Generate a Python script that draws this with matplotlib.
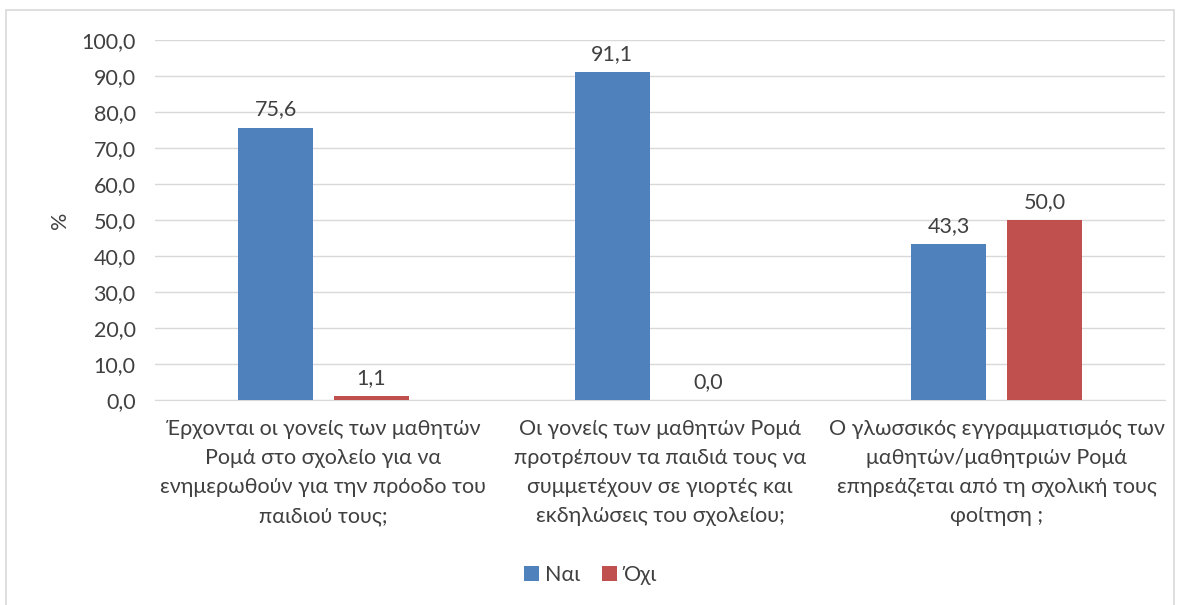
import matplotlib
matplotlib.use("Agg")
import matplotlib.pyplot as plt
import numpy as np
from matplotlib.patches import Rectangle

categories = [
    "Έρχονται οι γονείς των μαθητών\nΡομά στο σχολείο για να\nενημερωθούν για την πρόοδο του\nπαιδιού τους;",
    "Οι γονείς των μαθητών Ρομά\nπροτρέπουν τα παιδιά τους να\nσυμμετέχουν σε γιορτές και\nεκδηλώσεις του σχολείου;",
    "Ο γλωσσικός εγγραμματισμός των\nμαθητών/μαθητριών Ρομά\nεπηρεάζεται από τη σχολική τους\nφοίτηση ;",
]
nai = [75.6, 91.1, 43.3]
oxi = [1.1, 0.0, 50.0]
series_names = ["Ναι", "Όχι"]
yticks = [0, 10, 20, 30, 40, 50, 60, 70, 80, 90, 100]

blue = "#4F81BD"
red = "#C0504D"
txt = "#404040"
fs = 15.5

plt.rcParams['font.family'] = ['Lato', 'DejaVu Sans']

fig = plt.figure(figsize=(11.8, 6.05), dpi=100)
ax = fig.add_axes([155 / 1180, 1 - 400 / 605, 1010 / 1180, 360 / 605])

# outer chart border
fig.patches.append(Rectangle((6 / 1180, -0.01), 1168 / 1180, 1 - 10 / 605 + 0.01,
                             transform=fig.transFigure, fill=False,
                             edgecolor="#D9D9D9", linewidth=1.2))

x = np.arange(len(categories))
w = 0.223
off = 0.142
b1 = ax.bar(x - off, nai, w, color=blue, label=series_names[0], zorder=3)
b2 = ax.bar(x + off, oxi, w, color=red, label=series_names[1], zorder=3)

for bars in (b1, b2):
    for r in bars:
        h = r.get_height()
        ax.annotate(f"{h:.1f}".replace(".", ","), (r.get_x() + r.get_width() / 2, h),
                    xytext=(0, 6), textcoords="offset points", ha="center", va="bottom",
                    fontsize=fs, color=txt)

ax.set_xlim(-0.5, 2.5)
ax.set_ylim(0, 100)
ax.set_yticks(yticks)
ax.set_yticklabels([f"{t:.1f}".replace(".", ",") for t in yticks], fontsize=fs, color=txt)
ax.set_xticks(x)
ax.set_xticklabels(categories, fontsize=fs, color=txt, linespacing=1.55)
ax.tick_params(axis="both", length=0)
ax.tick_params(axis="y", pad=14)
ax.tick_params(axis="x", pad=14)
ax.grid(axis="y", color="#D9D9D9", linewidth=1, zorder=0)
for s in ["top", "right", "left"]:
    ax.spines[s].set_visible(False)
ax.spines["bottom"].set_color("#D9D9D9")
ax.set_ylabel("%", fontsize=fs, color=txt, labelpad=8)

fig.legend(loc="center", bbox_to_anchor=(0.5, 1 - 575 / 605), ncol=2, frameon=False,
           fontsize=fs, handlelength=0.7, handleheight=0.7, handletextpad=0.3,
           columnspacing=1.0, labelcolor=txt)

fig.savefig("out.png", dpi=100)
